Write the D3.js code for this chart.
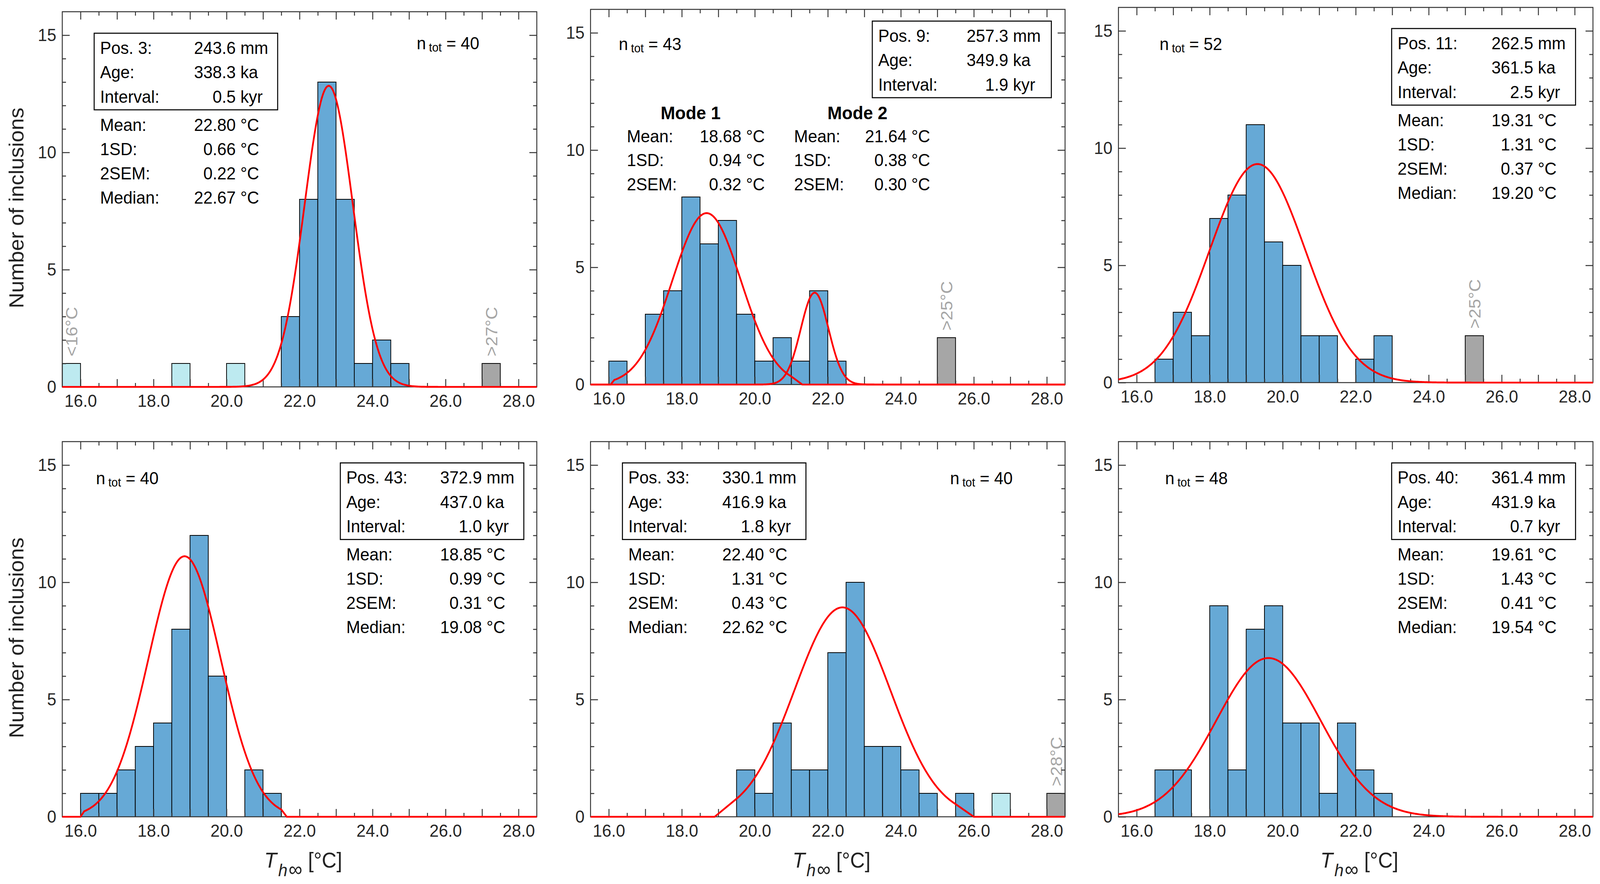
<!DOCTYPE html>
<html>
<head>
<meta charset="utf-8">
<script src="https://cdn.jsdelivr.net/npm/d3@7"></script>
<style>
  html, body { margin: 0; padding: 0; width: 100%; height: 100%; overflow: hidden; background: #fff; }
  svg { display: block; width: 100vw; height: 100vh; font-family: "Liberation Sans", Arial, sans-serif; }
</style>
</head>
<body>
<svg id="chart" viewBox="0 0 4316 2262" preserveAspectRatio="none"></svg>
<script>
"use strict";

// ---- data -------------------------------------------------------------
// histogram bins (left edge, °C), 0.5 °C wide
var binLeft = [15.5, 16.0, 16.5, 17.0, 17.5, 18.0, 18.5, 19.0, 19.5, 20.0, 20.5, 21.0, 21.5,
               22.0, 22.5, 23.0, 23.5, 24.0, 24.5, 25.0, 25.5, 26.0, 26.5, 27.0, 27.5, 28.0];
var binWidth = 0.5;

// counts of the fitted inclusions, one array per panel
var counts1 = [0,0,0,0,0,0,0,0,0,0,0,0,3,8,13,8,1,2,1,0,0,0,0,0,0,0];
var counts2 = [0,1,0,3,4,8,6,7,3,1,2,1,4,1,0,0,0,0,0,0,0,0,0,0,0,0];
var counts3 = [0,0,1,3,2,7,8,11,6,5,2,2,0,1,2,0,0,0,0,0,0,0,0,0,0,0];
var counts4 = [0,1,1,2,3,4,8,12,6,0,2,1,0,0,0,0,0,0,0,0,0,0,0,0,0,0];
var counts5 = [0,0,0,0,0,0,0,0,2,1,4,2,2,7,10,3,3,2,1,0,1,0,0,0,0,0];
var counts6 = [0,0,2,2,0,9,2,8,9,4,4,1,4,2,1,0,0,0,0,0,0,0,0,0,0,0];
var panelCounts = [counts1, counts2, counts3, counts4, counts5, counts6];

// outliers (excluded values)
var outPanel = [0, 0, 0, 0, 1, 2, 4, 4];
var outLeft  = [15.5, 18.5, 20.0, 27.0, 25.0, 25.0, 26.5, 28.0];
var outCount = [1, 1, 1, 1, 2, 2, 1, 1];
var outKind  = ["light", "light", "light", "grey", "grey", "grey", "light", "grey"];
var outLabel = ["<16°C", "", "", ">27°C", ">25°C", ">25°C", "", ">28°C"];

// fitted normal curves (panel, mean, sd, peak height, optional support)
var fitPanel = [0, 1, 1, 2, 3, 4, 5];
var fitMean  = [22.80, 18.68, 21.64, 19.31, 18.85, 22.40, 19.61];
var fitSd    = [0.66, 0.94, 0.38, 1.31, 0.99, 1.31, 1.43];
var fitPeak  = [12.84, 7.31, 3.92, 9.32, 11.11, 8.93, 6.77];
var fitZeroLo = [null, 16.05, null, null, 16.0, 18.9, null];
var fitLo     = [null, 16.15, null, null, 16.1, 19.5, null];
var fitHi     = [null, 21.0, null, null, 21.5, 25.5, null];
var fitZeroHi = [null, 21.3, null, null, 21.65, 26.0, null];

// sample information
var posNum   = [3, 9, 11, 43, 33, 40];
var posMm    = [243.6, 257.3, 262.5, 372.9, 330.1, 361.4];
var ageKa    = [338.3, 349.9, 361.5, 437.0, 416.9, 431.9];
var intKyr   = [0.5, 1.9, 2.5, 1.0, 1.8, 0.7];
var nTot     = [40, 43, 52, 40, 40, 48];
var statMean = [22.80, null, 19.31, 18.85, 22.40, 19.61];
var statSd   = [0.66, null, 1.31, 0.99, 1.31, 1.43];
var stat2sem = [0.22, null, 0.37, 0.31, 0.43, 0.41];
var statMed  = [22.67, null, 19.20, 19.08, 22.62, 19.54];

// bimodal panel (Pos. 9)
var modeName = ["Mode 1", "Mode 2"];
var modeMean = [18.68, 21.64];
var modeSd   = [0.94, 0.38];
var mode2sem = [0.32, 0.30];

// axes
var xTicks = [16, 18, 20, 22, 24, 26, 28];
var yTicks = [0, 5, 10, 15];

// ---- layout -----------------------------------------------------------
var PW = 1280, PH = 960;
var panelLeft = [168, 1593, 3017, 168, 1593, 3017];
var panelTop  = [30, 24, 19, 1130, 1130, 1130];
var boxX = [86, 760, 737, 750, 86, 737];
var boxY = [55, 30, 54, 54.5, 54.5, 54.5];
var boxW = [495, 483, 496, 495, 495, 496];
var BOX_H = 196;
var numDx = [366, 351, 366, 366, 366, 366];
var ntotX = [956, 76, 111, 91, 970, 126];
var ntotY = [96, 104, 109, 109, 109, 109];
var modeLabelX = [98, 549], modeNumDx = [309, 304], modeTitleX = [270, 720];

var FS = 45;
var BLUE = "#66a9d6", LIGHT = "#bdeaf0", GREY = "#a6a6a6";
var AXIS = "#333333", TEXT = "#000000";

var f1 = d3.format(".1f"), f2 = d3.format(".2f");

var svg = d3.select("#chart");
svg.append("rect").attr("width", 4316).attr("height", 2262).attr("fill", "#fff");

var x = d3.scaleLinear().domain([15.5, 28.5]).range([0, PW]);
var y = d3.scaleLinear().domain([0, 16]).range([PH, 0]);

var intTicks = d3.range(16, 29, 1);
var halfTicks = d3.range(16.5, 28.5, 1);
var yMinor = d3.range(1, 16, 1).filter(function (d) { return d % 5 !== 0; });

function styleAxis(g) {
  g.attr("font-size", null).attr("font-family", null);
  g.select(".domain").remove();
  g.selectAll("line").attr("stroke", AXIS).attr("stroke-width", 2.5);
  g.selectAll("text").attr("font-size", FS).attr("fill", "#262626");
}

function addText(g, tx, ty, str, anchor) {
  return g.append("text").attr("x", tx).attr("y", ty)
    .attr("text-anchor", anchor || "start")
    .attr("font-size", FS).attr("fill", TEXT).text(str);
}

// value lines: label, right-aligned number, unit
function valueLine(g, L, dNum, ty, label, num, unit) {
  addText(g, L, ty, label);
  addText(g, L + dNum, ty, num, "end");
  addText(g, L + dNum + 12.5, ty, unit);
}

panelCounts.forEach(function (counts, p) {
  var g = svg.append("g").attr("transform", "translate(" + panelLeft[p] + "," + panelTop[p] + ")");

  // main bars
  g.selectAll("rect.bar").data(counts.map(function (c, i) { return { left: binLeft[i], n: c }; })
      .filter(function (d) { return d.n > 0; }))
    .enter().append("rect").attr("class", "bar")
    .attr("x", function (d) { return x(d.left); })
    .attr("y", function (d) { return y(d.n); })
    .attr("width", function (d) { return x(d.left + binWidth) - x(d.left); })
    .attr("height", function (d) { return y(0) - y(d.n); })
    .attr("fill", BLUE).attr("stroke", "#000").attr("stroke-width", 2);

  // outlier bars
  var outs = outPanel.map(function (pp, i) { return i; }).filter(function (i) { return outPanel[i] === p; });
  g.selectAll("rect.out").data(outs).enter().append("rect").attr("class", "out")
    .attr("x", function (i) { return x(outLeft[i]); })
    .attr("y", function (i) { return y(outCount[i]); })
    .attr("width", function (i) { return x(outLeft[i] + binWidth) - x(outLeft[i]); })
    .attr("height", function (i) { return y(0) - y(outCount[i]); })
    .attr("fill", function (i) { return outKind[i] === "grey" ? GREY : LIGHT; })
    .attr("stroke", "#000").attr("stroke-width", 2);

  g.selectAll("text.outlab").data(outs.filter(function (i) { return outLabel[i] !== ""; }))
    .enter().append("text").attr("class", "outlab")
    .attr("transform", function (i) {
      return "translate(" + x(outLeft[i] + binWidth / 2) + "," + (y(outCount[i]) - 18) + ") rotate(-90)";
    })
    .attr("dy", "0.36em").attr("font-size", FS).attr("fill", GREY)
    .text(function (i) { return outLabel[i]; });

  // frame
  g.append("rect").attr("width", PW).attr("height", PH)
    .attr("fill", "none").attr("stroke", AXIS).attr("stroke-width", 2.5);

  // axes (ticks point inwards)
  g.append("g").attr("transform", "translate(0," + PH + ")")
    .call(d3.axisBottom(x).tickValues(intTicks).tickSize(-20).tickPadding(19)
      .tickFormat(function (d) { return xTicks.indexOf(d) >= 0 ? f1(d) : ""; }))
    .call(styleAxis);
  g.append("g").attr("transform", "translate(0," + PH + ")")
    .call(d3.axisBottom(x).tickValues(halfTicks).tickSize(-10).tickFormat(""))
    .call(styleAxis);
  g.append("g").call(d3.axisTop(x).tickValues(intTicks).tickSize(-20).tickFormat("")).call(styleAxis);
  g.append("g").call(d3.axisTop(x).tickValues(halfTicks).tickSize(-10).tickFormat("")).call(styleAxis);
  g.append("g").call(d3.axisLeft(y).tickValues(yTicks).tickSize(-20).tickPadding(16)).call(styleAxis);
  g.append("g").call(d3.axisLeft(y).tickValues(yMinor).tickSize(-10).tickFormat("")).call(styleAxis);
  g.append("g").attr("transform", "translate(" + PW + ",0)")
    .call(d3.axisRight(y).tickValues(yTicks).tickSize(-20).tickFormat("")).call(styleAxis);
  g.append("g").attr("transform", "translate(" + PW + ",0)")
    .call(d3.axisRight(y).tickValues(yMinor).tickSize(-10).tickFormat("")).call(styleAxis);

  // fitted curves
  var line = d3.line().x(function (d) { return x(d[0]); }).y(function (d) { return y(d[1]); });
  fitPanel.forEach(function (fp, k) {
    if (fp !== p) return;
    var gauss = function (v) { return fitPeak[k] * Math.exp(-0.5 * Math.pow((v - fitMean[k]) / fitSd[k], 2)); };
    var pts = [];
    if (fitLo[k] == null) {
      d3.range(15.5, 28.5001, 0.02).forEach(function (v) { pts.push([v, gauss(v)]); });
    } else {
      pts.push([15.5, 0], [fitZeroLo[k], 0]);
      d3.range(fitLo[k], fitHi[k] + 1e-6, 0.02).forEach(function (v) { pts.push([v, gauss(v)]); });
      pts.push([fitZeroHi[k], 0], [28.5, 0]);
    }
    g.append("path").attr("d", line(pts)).attr("fill", "none")
      .attr("stroke", "#ff0000").attr("stroke-width", 4.7).attr("stroke-linejoin", "round");
  });

  // information box
  var bx = boxX[p], by = boxY[p], L = bx + 16;
  g.append("rect").attr("x", bx).attr("y", by).attr("width", boxW[p]).attr("height", BOX_H)
    .attr("fill", "#fff").attr("stroke", "#000").attr("stroke-width", 2.7);
  valueLine(g, L, numDx[p], by + 53, "Pos. " + posNum[p] + ":", f1(posMm[p]), "mm");
  valueLine(g, L, numDx[p], by + 115.5, "Age:", f1(ageKa[p]), "ka");
  valueLine(g, L, numDx[p], by + 178, "Interval:", f1(intKyr[p]), "kyr");

  // statistics
  if (statMean[p] != null) {
    var s0 = by + BOX_H + 54;
    valueLine(g, L, numDx[p], s0, "Mean:", f2(statMean[p]), "°C");
    valueLine(g, L, numDx[p], s0 + 62, "1SD:", f2(statSd[p]), "°C");
    valueLine(g, L, numDx[p], s0 + 124, "2SEM:", f2(stat2sem[p]), "°C");
    valueLine(g, L, numDx[p], s0 + 186, "Median:", f2(statMed[p]), "°C");
  } else {
    modeName.forEach(function (nm, m) {
      g.append("text").attr("x", modeTitleX[m]).attr("y", 281).attr("text-anchor", "middle")
        .attr("font-size", 47).attr("font-weight", "bold").attr("fill", TEXT).text(nm);
      valueLine(g, modeLabelX[m], modeNumDx[m], 340, "Mean:", f2(modeMean[m]), "°C");
      valueLine(g, modeLabelX[m], modeNumDx[m], 401.5, "1SD:", f2(modeSd[m]), "°C");
      valueLine(g, modeLabelX[m], modeNumDx[m], 463, "2SEM:", f2(mode2sem[m]), "°C");
    });
  }

  // n_tot
  var nt = g.append("text").attr("x", ntotX[p]).attr("y", ntotY[p])
    .attr("font-size", FS).attr("fill", TEXT);
  nt.append("tspan").text("n");
  nt.append("tspan").attr("dx", 8).attr("dy", 6).attr("font-size", 31).text("tot");
  nt.append("tspan").attr("dy", -6).text(" = " + nTot[p]);

  // axis titles
  if (p % 3 === 0) {
    g.append("text")
      .attr("transform", "translate(" + (63 - panelLeft[p]) + "," + 502 + ") rotate(-90)")
      .attr("text-anchor", "middle").attr("font-size", 55).attr("fill", "#222")
      .text("Number of inclusions");
  }
  if (p >= 3) {
    var xt = g.append("text").attr("x", PW / 2 + 10).attr("y", PH + 130)
      .attr("text-anchor", "middle").attr("font-size", 55).attr("fill", "#222");
    xt.append("tspan").attr("font-style", "italic").text("T");
    xt.append("tspan").attr("font-style", "italic").attr("font-size", 45).attr("dy", 22).attr("dx", 4).text("h");
    xt.append("tspan").attr("font-size", 52).attr("dx", 3).text("∞");
    xt.append("tspan").attr("dy", -22).text(" [°C]");
  }
});
</script>
</body>
</html>
